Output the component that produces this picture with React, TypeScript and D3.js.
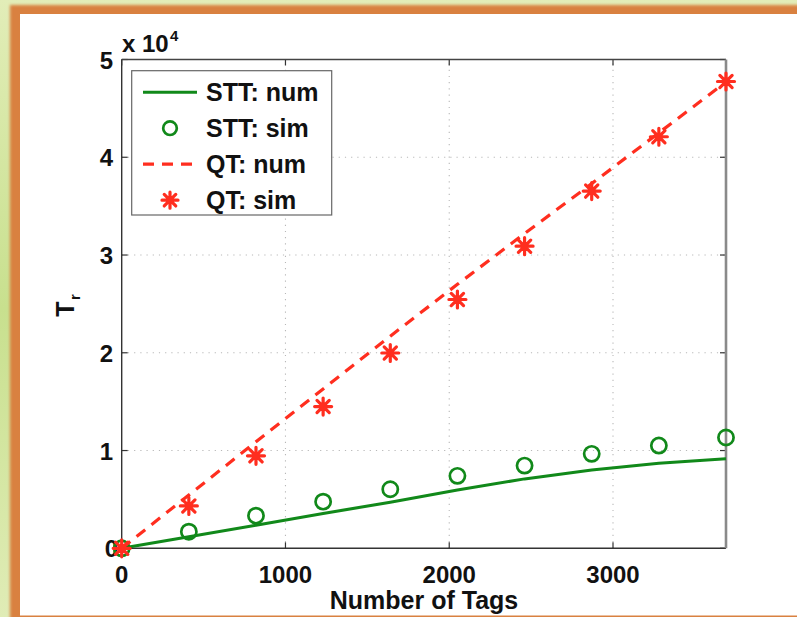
import React from "react";
import * as d3 from "d3";

const tags = [0, 410, 820, 1230, 1640, 2050, 2460, 2870, 3280, 3690];
const sttNum = [0, 1180, 2360, 3570, 4700, 5970, 7100, 8020, 8700, 9150];
const sttSim = [0, 1700, 3340, 4770, 6040, 7410, 8460, 9660, 10510, 11330];
const qtNum = [0, 5450, 10900, 16300, 21700, 27000, 32200, 37300, 42500, 47700];
const qtSim = [0, 4330, 9460, 14500, 19980, 25450, 30900, 36540, 42100, 47750];
const xTicks = [0, 1000, 2000, 3000];
const yTicks = [0, 10000, 20000, 30000, 40000, 50000];
const legendLabels = ["STT: num", "STT: sim", "QT: num", "QT: sim"];

const GREEN = "#11891a";
const RED = "#ff2e1f";
const FONT = "'Liberation Sans', Arial, Helvetica, sans-serif";

const W = 797;
const H = 617;

export default function App() {
  const x = d3.scaleLinear().domain([0, 3690]).range([121.7, 726]);
  const y = d3.scaleLinear().domain([0, 50000]).range([548.3, 59.5]);
  const [x0, x1] = x.range();
  const [yb, yt] = y.range();

  const line = (vals: number[]) =>
    d3
      .line<number>()
      .x((_, i) => x(tags[i]))
      .y((v) => y(v))(vals) || "";

  const star = (cx: number, cy: number, r: number) => {
    const d = r * 0.72;
    return `M${cx - r},${cy}L${cx + r},${cy}M${cx},${cy - r}L${cx},${cy + r}M${cx - d},${cy - d}L${cx + d},${cy + d}M${cx - d},${cy + d}L${cx + d},${cy - d}`;
  };

  const legX = 131.7;
  const legY = 70.7;
  const legW = 200;
  const legH = 144.3;
  const rowY = (i: number) => legY + 21.5 + i * 36;

  return (
    <div style={{ position: "fixed", left: 0, top: 0, width: W, height: H }}>
      <svg width={W} height={H} style={{ display: "block" }}>
        <defs>
          <linearGradient id="bgGrad" x1="0" y1="0" x2="0" y2="1">
            <stop offset="0" stopColor="#e2edb8" />
            <stop offset="0.5" stopColor="#c8e08e" />
            <stop offset="1" stopColor="#e0ecb6" />
          </linearGradient>
          <filter id="blur" x="-5%" y="-5%" width="110%" height="110%">
            <feGaussianBlur stdDeviation="1.6" />
          </filter>
        </defs>
        <rect x={0} y={0} width={W} height={H} fill="url(#bgGrad)" />
        <rect x={10} y={5} width={W + 20} height={H + 20} fill="#d98140" filter="url(#blur)" />
        <rect x={20} y={14} width={W} height={601.5} fill="#ffffff" />

        {/* grid */}
        <g stroke="#b8b8b8" strokeWidth={1.1} strokeDasharray="1.2 5">
          {xTicks.filter((t) => t > 0).map((t) => (
            <line key={"gx" + t} x1={x(t)} x2={x(t)} y1={yb} y2={yt} />
          ))}
          {yTicks.filter((t) => t > 0 && t < 50000).map((t) => (
            <line key={"gy" + t} x1={x0} x2={x1} y1={y(t)} y2={y(t)} />
          ))}
        </g>

        {/* ticks */}
        <g stroke="#333" strokeWidth={1.2}>
          {xTicks.map((t) => (
            <g key={"tx" + t}>
              <line x1={x(t)} x2={x(t)} y1={yb} y2={yb - 6} />
              <line x1={x(t)} x2={x(t)} y1={yt} y2={yt + 6} />
            </g>
          ))}
          {yTicks.map((t) => (
            <g key={"ty" + t}>
              <line x1={x0} x2={x0 + 6} y1={y(t)} y2={y(t)} />
              <line x1={x1} x2={x1 - 6} y1={y(t)} y2={y(t)} />
            </g>
          ))}
        </g>

        {/* axes box */}
        <line x1={x0} x2={x1} y1={yb} y2={yb} stroke="#333" strokeWidth={1.4} />
        <line x1={x0} x2={x1} y1={yt} y2={yt} stroke="#444" strokeWidth={1.4} />
        <line x1={x0} x2={x0} y1={yt} y2={yb} stroke="#333" strokeWidth={1.4} />
        <line x1={x1} x2={x1} y1={yt} y2={yb} stroke="#8a8a8a" strokeWidth={2.6} />

        {/* tick labels */}
        <g fontFamily={FONT} fontWeight="bold" fontSize={24} fill="#111">
          {xTicks.map((t) => (
            <text key={"lx" + t} x={x(t)} y={583} textAnchor="middle">
              {t}
            </text>
          ))}
          {yTicks.map((t) => (
            <text key={"ly" + t} x={t === 0 ? 118 : 113} y={y(t) + 9} textAnchor="end">
              {t / 10000}
            </text>
          ))}
          <text x={122} y={52}>
            x 10
          </text>
          <text x={170} y={41} fontSize={15}>
            4
          </text>
          <text x={424} y={609} textAnchor="middle" fontSize={25}>
            Number of Tags
          </text>
          <g transform="translate(74,309) rotate(-90)">
            <text x={0} y={0} textAnchor="middle" fontSize={25}>
              T
            </text>
            <text x={9} y={6} fontSize={15}>
              r
            </text>
          </g>
        </g>

        {/* series */}
        <path d={line(sttNum)} fill="none" stroke={GREEN} strokeWidth={3} />
        <g fill="none" stroke={GREEN} strokeWidth={2.7}>
          {sttSim.map((v, i) => (
            <circle key={"c" + i} cx={x(tags[i])} cy={y(v)} r={7.6} />
          ))}
        </g>
        <path d={line(qtNum)} fill="none" stroke={RED} strokeWidth={3.2} strokeDasharray="11 8" />
        <g fill="none" stroke={RED} strokeWidth={3.2} strokeLinecap="round">
          {qtSim.map((v, i) => (
            <path key={"s" + i} d={star(x(tags[i]), y(v), 8.5)} />
          ))}
        </g>

        {/* legend */}
        <rect x={legX} y={legY} width={legW} height={legH} fill="#fff" stroke="#666" strokeWidth={1.2} />
        <line x1={143} x2={197} y1={rowY(0)} y2={rowY(0)} stroke={GREEN} strokeWidth={3} />
        <circle cx={170} cy={rowY(1)} r={6.8} fill="none" stroke={GREEN} strokeWidth={2.7} />
        <line x1={143} x2={197} y1={rowY(2)} y2={rowY(2)} stroke={RED} strokeWidth={3.2} strokeDasharray="11 8" />
        <path d={star(170, rowY(3), 8)} fill="none" stroke={RED} strokeWidth={3.2} strokeLinecap="round" />
        <g fontFamily={FONT} fontWeight="bold" fontSize={25} fill="#111">
          {legendLabels.map((l, i) => (
            <text key={l} x={206} y={rowY(i) + 9}>
              {l}
            </text>
          ))}
        </g>
      </svg>
    </div>
  );
}
